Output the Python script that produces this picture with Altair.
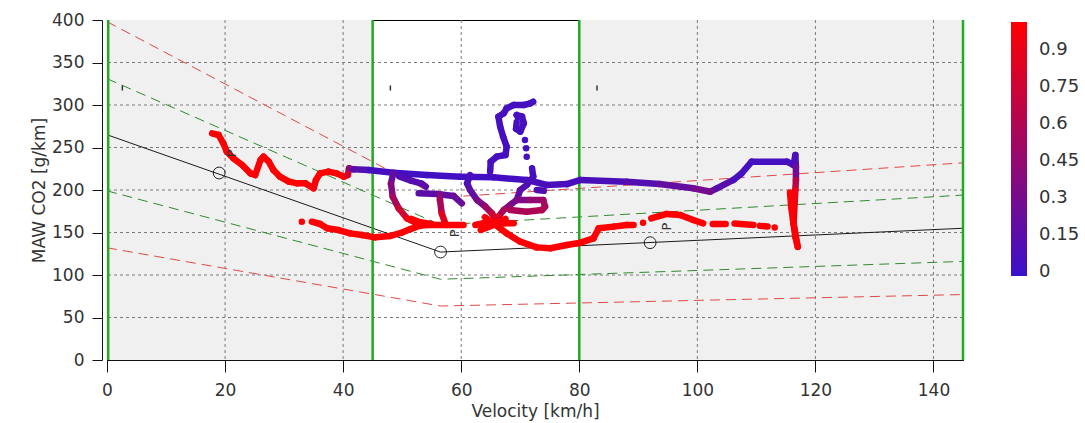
import altair as alt
import pandas as pd

# ---------------- axes / ticks ----------------
X_TICKS = [0, 20, 40, 60, 80, 100, 120, 140]
Y_TICKS = [0, 50, 100, 150, 200, 250, 300, 350, 400]
GRID_X = [20, 40, 60, 80, 100, 120, 140]
GRID_Y = [50, 100, 150, 200, 250, 300, 350]
LEGEND_TICKS = [0, 0.15, 0.3, 0.45, 0.6, 0.75, 0.9]
COLOR_DOMAIN = [-0.015, 1.0135]

# ---------------- zones ----------------
GREY_FROM = [0, 80]
GREY_TO = [45, 145]
BOUNDARY_X = [0.2, 45, 80, 145]

# ---------------- reference bands ----------------
BAND_X = [0, 56.5, 145]
UPPER_RED = [398, 191, 232]
UPPER_GREEN = [331, 159, 194]
REFERENCE = [265, 127, 155]
LOWER_GREEN = [199, 95, 116]
LOWER_RED = [132, 63.5, 77]

# ---------------- markers / labels ----------------
POINT_X = [19, 56.5, 92]
POINT_Y = [220, 127, 138]
LABEL_X = [21.1, 59.0, 94.8]
LABEL_Y = [243, 149, 157]
MARK_X = [2.6, 48.0, 83.0]
MARK_Y = [320, 320, 320]

# ---------------- trajectory (x, y, value) ----------------
TRACE_A = [(17.8, 266.7, 1), (18.9, 264.7, 1), (19.7, 254.9, 1), (20.3, 245, 1), (21.4, 237.3, 1),
           (22.9, 229.4, 1), (24.3, 219.6, 1), (25.1, 217.6, 1), (26.0, 235.3, 1), (26.5, 239.2, 1),
           (27.4, 233.3, 1), (28.2, 223.5, 1), (29.3, 215.7, 1), (30.8, 209.8, 1), (32.2, 207.8, 1),
           (33.6, 207.8, 1), (35.0, 202, 1), (35.4, 211.8, 1), (36.1, 219.6, 1), (37.5, 221.6, 1),
           (38.9, 219.6, 1), (40.1, 215.7, 1), (40.8, 217.6, 0.95), (41.0, 225.5, 0.6),
           (41.8, 224.3, 0.2), (44.3, 223.5, 0.05), (48.5, 220.4, 0.03), (54.2, 217.6, 0.03),
           (59.8, 215.7, 0.03), (65.5, 214.9, 0.03), (71.1, 211.8, 0.05), (74.5, 205.9, 0.08),
           (77.9, 207, 0.06), (80.2, 211.8, 0.05), (88.0, 209.8, 0.1), (93.6, 207, 0.15),
           (99.3, 202, 0.25), (102.2, 198, 0.35), (103.3, 202, 0.2), (106.1, 211.8, 0.08),
           (107.5, 219.6, 0.05), (109.2, 233.3, 0.05), (115.2, 233.3, 0.05), (116.3, 229.4, 0.05),
           (116.6, 241.2, 0.05), (116.7, 227.5, 0.1), (116.7, 211.8, 0.45), (116.6, 200, 0.85),
           (116.3, 160.8, 1), (117.0, 133.3, 1)]
TRACE_A2 = [(115.7, 197, 1), (115.9, 180, 1), (116.2, 165, 1), (116.6, 145, 1), (117.0, 133, 1)]
TRACE_B = [(34.7, 162.7, 1), (36.1, 160, 1), (37.3, 154.9, 1), (39.2, 152.9, 1), (41.2, 149, 1),
           (43.2, 147, 1), (45.4, 144.3, 1), (48.0, 146, 1), (50.0, 150, 1), (51.4, 154, 1),
           (53.0, 158, 1), (54.2, 158.8, 1), (57.6, 158.8, 1), (60.4, 158.8, 1)]
TRACE_C = [(62.4, 158.8, 1), (64.9, 162.7, 1), (67.2, 160.8, 1), (68.9, 160.8, 1)]
TRACE_D = [(64.0, 168, 0.95), (65.5, 160.8, 1), (67.7, 149, 1), (70.0, 139.2, 1), (72.8, 132.5, 1),
           (75.1, 131.4, 1), (77.9, 135.3, 1), (80.2, 138, 1), (82.4, 143.1, 1), (83.3, 154.9, 1),
           (85.8, 156.9, 1), (88.0, 158.8, 1), (89.2, 158.8, 1)]
TRACE_E = [(92.2, 166.5, 1), (94.8, 171.8, 1), (97.1, 170.6, 1), (99.3, 164.7, 1), (101.0, 160.8, 1)]
TRACE_F = [(102.6, 160, 1), (104.8, 160, 1)]
TRACE_G = [(106.3, 160.5, 1), (109.5, 158.8, 1)]
TRACE_H = [(110.6, 157.8, 1), (111.9, 157.0, 1)]
TRACE_P0 = [(48.5, 219.6, 0.1), (48.1, 207.8, 0.3), (48.4, 192.2, 0.45), (49.4, 178.5, 0.65),
            (50.8, 166.7, 0.85), (52.5, 160.8, 1)]
TRACE_P1 = [(49.5, 216, 0.1), (51.5, 211, 0.12), (53.3, 207.5, 0.15), (54.0, 204, 0.15)]
TRACE_P2 = [(52.8, 196.1, 0.15), (55.9, 195.3, 0.18), (58.7, 193, 0.2), (60.1, 184.3, 0.25)]
TRACE_P3 = [(56.4, 195, 0.3), (56.4, 188.2, 0.4), (56.7, 172.5, 0.7), (57.3, 160.8, 1)]
TRACE_M = [(61.5, 217.6, 0.05), (61.0, 207.8, 0.08), (61.5, 200, 0.12), (62.7, 188.2, 0.25),
           (64.1, 180.4, 0.4), (65.2, 172.5, 0.6), (66.0, 162.7, 0.9)]
TRACE_T = [(64.9, 221.5, 0.05), (65.0, 233.3, 0.05), (66.0, 239.2, 0.05), (67.5, 241.2, 0.05),
           (67.7, 251, 0.05), (67.1, 262.7, 0.05), (66.6, 274.5, 0.05), (66.3, 286.3, 0.05),
           (67.2, 290.2, 0.05), (67.7, 296.1, 0.05), (68.9, 300, 0.05), (70.6, 300, 0.05),
           (71.7, 302, 0.05), (72.2, 303.9, 0.05)]
TRACE_L = [(69.6, 286, 0.05), (69.4, 288.2, 0.05), (70.3, 286.3, 0.05), (70.6, 278.4, 0.05),
           (70.0, 268.6, 0.05), (69.3, 272, 0.05), (69.4, 280, 0.05)]
TRACE_R = [(72.0, 225.5, 0.05), (72.2, 215.7, 0.05), (71.1, 205.9, 0.08), (70.0, 200, 0.12),
           (69.4, 188.2, 0.2), (68.3, 182.4, 0.3), (67.2, 176.5, 0.45), (66.3, 168.6, 0.7),
           (65.8, 160.8, 0.95)]
TRACE_S = [(69.4, 188.2, 0.3), (71.7, 188.2, 0.4), (73.9, 188.2, 0.5), (74.2, 180.4, 0.55),
           (73.7, 176.5, 0.6), (71.1, 174.5, 0.6), (68.3, 176.5, 0.55)]
TRACE_U = [(72.8, 200, 0.1), (74.0, 199, 0.1)]
TRACE_X1 = [(63.3, 153, 1), (65.5, 159, 1), (67.5, 166, 0.95)]
TRACE_X2 = [(51.5, 166, 1), (53.0, 162, 1), (55.0, 160, 1)]
DOTS = [(33.0, 162.7, 1), (90.8, 161.5, 1), (113.1, 156.0, 1),
        (70.8, 258.8, 0.05), (71.0, 249, 0.05), (71.1, 239.2, 0.05)]

STROKES = [TRACE_A, TRACE_P1, TRACE_P2, TRACE_T, TRACE_L, TRACE_U, TRACE_M, TRACE_R, TRACE_S,
           TRACE_P0, TRACE_P3, TRACE_B, TRACE_C, TRACE_X1, TRACE_X2, TRACE_D, TRACE_E,
           TRACE_F, TRACE_G, TRACE_H, TRACE_A2]

# ---------------- build tables ----------------
seg_rows = []
for stroke in STROKES:
    for (x0, y0, c0), (x1, y1, c1) in zip(stroke[:-1], stroke[1:]):
        seg_rows.append({"x": x0, "y": y0, "x2": x1, "y2": y1, "c": (c0 + c1) / 2})
# isolated dots: zero-length segments drawn with round caps
for (x0, y0, c0) in DOTS:
    seg_rows.append({"x": x0, "y": y0, "x2": x0, "y2": y0, "c": c0})
segments = pd.DataFrame(seg_rows)

FONT = "DejaVu Sans"
XSCALE = alt.Scale(domain=[0, 145], nice=False, zero=False)
YSCALE = alt.Scale(domain=[0, 400], nice=False, zero=False)
XAXIS = alt.Axis(values=X_TICKS, title="Velocity [km/h]", grid=False, tickSize=12,
                 labelPadding=10, titlePadding=5, labelFlush=False)
YAXIS = alt.Axis(values=Y_TICKS, title="MAW CO2 [g/km]", grid=False, offset=5, tickSize=10,
                 labelPadding=8, titlePadding=3, labelFlush=False)


def xenc(field="x"):
    return alt.X(f"{field}:Q", scale=XSCALE, axis=XAXIS)


def yenc(field="y"):
    return alt.Y(f"{field}:Q", scale=YSCALE, axis=YAXIS)


COLOR_SCALE = alt.Scale(domain=COLOR_DOMAIN, range=["#3a10cc", "#ff0000"], interpolate="rgb")
LEGEND = alt.Legend(type="gradient", orient="none", legendX=904, legendY=2, title=None,
                    gradientLength=254, gradientThickness=16, values=LEGEND_TICKS,
                    labelFontSize=18, labelFont=FONT, labelColor="#333333", labelOffset=12,
                    padding=0, direction="vertical", gradientStrokeWidth=0, format=".2~f")

layers = []

# grey zones
layers.append(
    alt.Chart(pd.DataFrame({"x": GREY_FROM, "x2": GREY_TO}))
    .mark_rect(color="#f0f0f0")
    .encode(x=xenc(), x2="x2:Q", y=alt.value(0), y2=alt.value(340))
)
# grid
layers.append(
    alt.Chart(pd.DataFrame({"x": GRID_X}))
    .mark_rule(color="#7a7a7a", strokeDash=[3, 3], strokeWidth=1)
    .encode(x=xenc())
)
layers.append(
    alt.Chart(pd.DataFrame({"y": GRID_Y}))
    .mark_rule(color="#7a7a7a", strokeDash=[3, 3], strokeWidth=1)
    .encode(y=yenc())
)
# bands
for vals, col, dash in [(UPPER_RED, "#e04848", [10, 6]), (UPPER_GREEN, "#2e8b2e", [10, 6]),
                        (LOWER_GREEN, "#2e8b2e", [10, 6]), (LOWER_RED, "#e04848", [10, 6])]:
    layers.append(
        alt.Chart(pd.DataFrame({"x": BAND_X, "y": vals}))
        .mark_line(color=col, strokeDash=dash, strokeWidth=1)
        .encode(x=xenc(), y=yenc())
    )
layers.append(
    alt.Chart(pd.DataFrame({"x": BAND_X, "y": REFERENCE}))
    .mark_line(color="#1a1a1a", strokeWidth=1)
    .encode(x=xenc(), y=yenc())
)
# green boundaries
layers.append(
    alt.Chart(pd.DataFrame({"x": BOUNDARY_X}))
    .mark_rule(color="#22aa22", strokeWidth=2.5)
    .encode(x=xenc())
)
# trajectory
layers.append(
    alt.Chart(segments)
    .mark_rule(strokeWidth=6.5, strokeCap="round")
    .encode(x=xenc(), y=yenc(), x2="x2:Q", y2="y2:Q",
            color=alt.Color("c:Q", scale=COLOR_SCALE, legend=LEGEND))
)
# markers
layers.append(
    alt.Chart(pd.DataFrame({"x": POINT_X, "y": POINT_Y}))
    .mark_point(shape="circle", filled=False, size=140, color="#222222", strokeWidth=1, opacity=1)
    .encode(x=xenc(), y=yenc())
)
layers.append(
    alt.Chart(pd.DataFrame({"x": LABEL_X, "y": LABEL_Y}))
    .mark_text(text="P", angle=270, fontSize=13, font=FONT, color="#333333")
    .encode(x=xenc(), y=yenc())
)
layers.append(
    alt.Chart(pd.DataFrame({"x": MARK_X, "y": MARK_Y}))
    .mark_tick(orient="vertical", size=5, thickness=1.5, color="#333333", opacity=1)
    .encode(x=xenc(), y=yenc())
)

chart = (
    alt.layer(*layers)
    .properties(width=856, height=340, autosize=alt.AutoSizeParams(type="none"),
                padding={"left": 107, "top": 20, "right": 122, "bottom": 63})
    .configure_view(stroke="black", strokeWidth=1)
    .configure_axis(labelFont=FONT, labelFontSize=17, titleFont=FONT, titleFontSize=17,
                    titleFontWeight="normal", labelColor="#333333", titleColor="#333333",
                    domainColor="#111111", tickColor="#111111")
    .configure_legend(labelFontSize=18, labelFont=FONT)
)

chart.save("out.html", embed_options={"renderer": "svg", "actions": False})
